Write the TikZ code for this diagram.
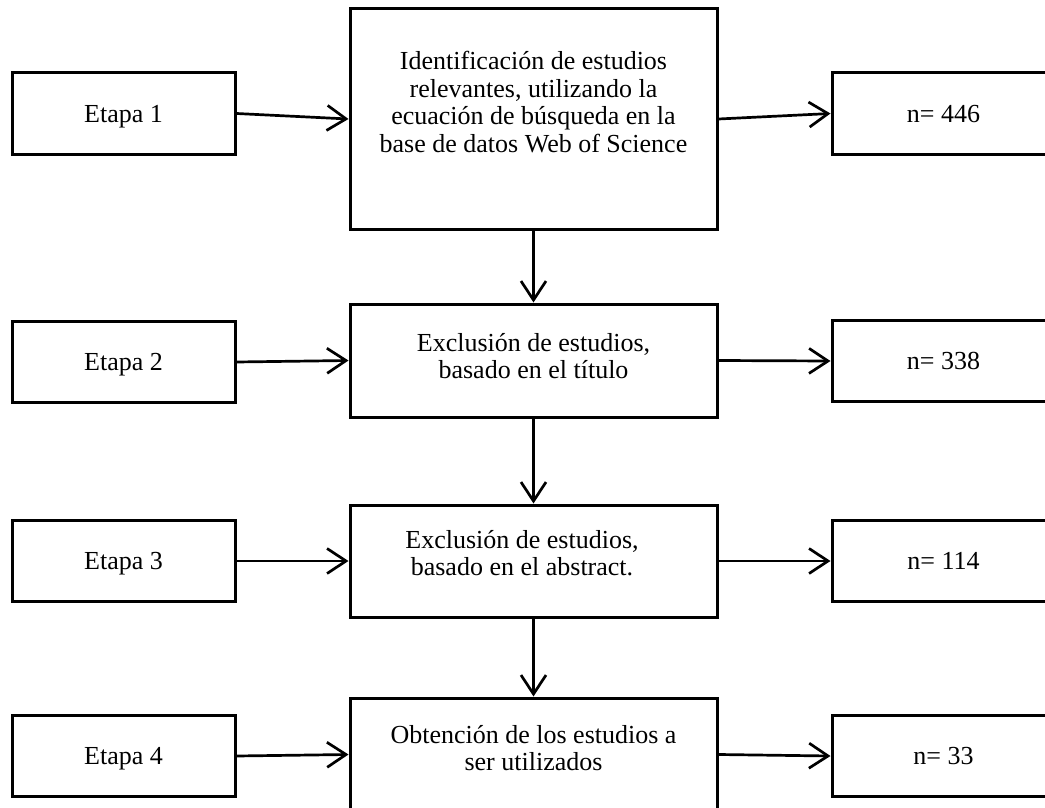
\documentclass[tikz,border=0pt]{standalone}
\usepackage{fontspec}
\setmainfont{Liberation Serif}
\usetikzlibrary{arrows.meta}
\begin{document}
\begin{tikzpicture}[x=1pt,y=-1pt,
  every node/.style={font=\fontsize{26pt}{27.7pt}\selectfont},
  box/.style={draw=black, line width=3pt, fill=white, inner sep=0pt},
  sidebox/.style={box, minimum width=223pt, minimum height=81pt, text depth=0pt},
  mainbox/.style={box, minimum width=367pt},
  boxtext/.style={align=center, inner sep=0pt},
  arr/.style={line width=2.7pt, -{Straight Barb[length=19pt, width=25pt, line width=2.7pt]}},
  downarr/.style={arr, line width=2.3pt}
]
\clip (0,0) rectangle (1045,808);
\fill[white] (0,0) rectangle (1045,808);

% stage labels on the left
\node[sidebox] (e1) at (123.5,113.5) {Etapa 1};
\node[sidebox] (e2) at (123.5,362) {Etapa 2};
\node[sidebox] (e3) at (123.5,561) {Etapa 3};
\node[sidebox] (e4) at (123.5,756) {Etapa 4};

% process steps in the middle column
\node[mainbox, minimum height=220pt] (c1) at (533.5,119) {};
\node[mainbox, minimum height=113pt] (c2) at (533.5,360.5) {};
\node[mainbox, minimum height=112pt] (c3) at (533.5,561) {};
\node[mainbox, minimum height=113pt] (c4) at (533.5,754.5) {};

\node[boxtext] (t1) at (533.5,102) {Identificación de estudios\\ relevantes, utilizando la\\ ecuación de búsqueda en la\\ base de datos Web of Science};
\node[boxtext] (t2) at (533.5,356) {Exclusión de estudios,\\ basado en el título};
\node[boxtext] (t3) at (522,553) {Exclusión de estudios,\\ basado en el abstract.};
\node[boxtext] (t4) at (533.5,748) {Obtención de los estudios a\\ ser utilizados};

% counts on the right
\node[sidebox] (r1) at (943.5,113.5) {n= 446};
\node[sidebox] (r2) at (943.5,361) {n= 338};
\node[sidebox] (r3) at (943.5,561) {n= 114};
\node[sidebox] (r4) at (943.5,756) {n= 33};

% connectors
\draw[arr] (e1.east) -- (c1.west);
\draw[arr] (e2.east) -- (c2.west);
\draw[arr] (e3.east) -- (c3.west);
\draw[arr] (e4.east) -- (c4.west);

\draw[arr] (c1.east) -- (r1.west);
\draw[arr] (c2.east) -- (r2.west);
\draw[arr] (c3.east) -- (r3.west);
\draw[arr] (c4.east) -- (r4.west);

\draw[downarr] (c1.south) -- (c2.north);
\draw[downarr] (c2.south) -- (c3.north);
\draw[downarr] (c3.south) -- (c4.north);
\end{tikzpicture}
\end{document}
